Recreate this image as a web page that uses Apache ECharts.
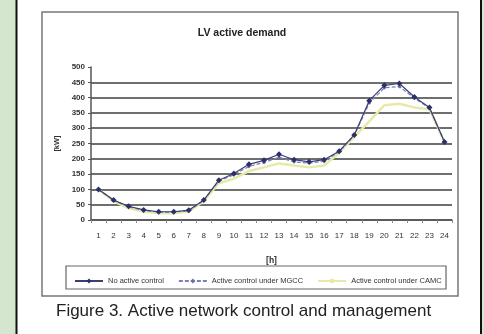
<!DOCTYPE html>
<html>
<head>
<meta charset="utf-8">
<script src="https://cdn.jsdelivr.net/npm/echarts@6/dist/echarts.min.js"></script>
<style>
  html, body { margin: 0; padding: 0; background: #d4e6cd; }
  #chart { width: 484px; height: 334px; }
</style>
</head>
<body>
<div id="chart"></div>
<script>
// Hours of the day
const hours = ['1','2','3','4','5','6','7','8','9','10','11','12','13','14','15','16','17','18','19','20','21','22','23','24'];
// LV active demand [kW] per hour
const noActiveControl = [100, 65, 45, 33, 27, 27, 32, 65, 130, 152, 182, 195, 215, 197, 190, 197, 225, 278, 390, 440, 446, 402, 368, 255];
const mgccControl     = [100, 64, 43, 31, 26, 26, 30, 64, 128, 148, 175, 188, 205, 190, 186, 192, 223, 276, 382, 432, 436, 398, 366, 255];
const camcControl     = [100, 62, 38, 28, 22, 22, 28, 62, 120, 135, 160, 172, 185, 178, 172, 178, 220, 272, 322, 375, 380, 368, 362, 255];
const yTicks = { min: 0, max: 500, step: 50 };

const chart = echarts.init(document.getElementById('chart'), null, { renderer: 'canvas' });
const font = 'Liberation Sans, Arial, sans-serif';

chart.setOption({
  backgroundColor: 'transparent',
  animation: false,
  graphic: [
    // white page with dark side rules
    { type: 'rect', shape: { x: 16, y: 0, width: 466, height: 334 }, style: { fill: '#ffffff' }, z: -10 },
    { type: 'line', shape: { x1: 16.5, y1: 0, x2: 16.5, y2: 334 }, style: { stroke: '#111', lineWidth: 2 }, z: -9 },
    { type: 'line', shape: { x1: 481, y1: 0, x2: 481, y2: 334 }, style: { stroke: '#111', lineWidth: 2 }, z: -9 },
    // chart frame
    { type: 'rect', shape: { x: 42, y: 12, width: 416, height: 284 }, style: { fill: 'none', stroke: '#777', lineWidth: 1.5 }, z: -5 },
    // legend frame
    { type: 'rect', shape: { x: 66, y: 266, width: 380, height: 23 }, style: { fill: 'none', stroke: '#666', lineWidth: 1.2 }, z: -5 },
    // caption
    { type: 'text', left: 56, top: 303, style: { text: 'Figure 3. Active network control and management', font: '17px ' + font, fill: '#222' } }
  ],
  title: {
    text: 'LV active demand',
    left: 'center',
    top: 23,
    textStyle: { fontSize: 10.5, fontWeight: 'bold', color: '#222', fontFamily: font }
  },
  legend: {
    top: 272,
    left: 69,
    itemWidth: 28,
    itemHeight: 6,
    itemGap: 14,
    textStyle: { fontSize: 7.5, color: '#333', fontFamily: font },
    data: ['No active control', 'Active control under MGCC', 'Active control under CAMC']
  },
  grid: { left: 91, right: 32, top: 67, bottom: 114, containLabel: false },
  xAxis: {
    type: 'category',
    data: hours,
    boundaryGap: true,
    name: '[h]',
    nameLocation: 'middle',
    nameGap: 36,
    nameTextStyle: { fontSize: 8.5, fontWeight: 'bold', color: '#333', fontFamily: font },
    axisLine: { lineStyle: { color: '#555', width: 1.5 } },
    axisTick: { show: true, inside: false, length: 3, lineStyle: { color: '#888' } },
    axisLabel: { fontSize: 8, color: '#333', margin: 12, fontFamily: font, interval: 0 }
  },
  yAxis: {
    type: 'value',
    min: yTicks.min,
    max: yTicks.max,
    interval: yTicks.step,
    name: '[kW]',
    nameLocation: 'middle',
    nameGap: 26,
    nameRotate: 90,
    nameTextStyle: { fontSize: 7.5, fontWeight: 'bold', color: '#333', fontFamily: font },
    axisLine: { show: true, lineStyle: { color: '#555', width: 1.5 } },
    axisTick: { show: true, length: 3, lineStyle: { color: '#555' } },
    axisLabel: { fontSize: 8, color: '#333', margin: 6, fontFamily: font, fontWeight: 'bold' },
    splitLine: { show: true, showMaxLine: false, lineStyle: { color: '#6e6e6e', width: 2 } }
  },
  series: [
    {
      name: 'Active control under CAMC',
      type: 'line',
      data: camcControl,
      symbol: 'none',
      lineStyle: { color: '#e6eaa6', width: 2.5 },
      itemStyle: { color: '#e6eaa6' },
      z: 2
    },
    {
      name: 'Active control under MGCC',
      type: 'line',
      data: mgccControl,
      symbol: 'diamond',
      symbolSize: 4,
      lineStyle: { color: '#7a7fb8', width: 1.2, type: [4, 2] },
      itemStyle: { color: '#6a6fa8' },
      z: 3
    },
    {
      name: 'No active control',
      type: 'line',
      data: noActiveControl,
      symbol: 'diamond',
      symbolSize: 6,
      lineStyle: { color: '#3a3f78', width: 1.2 },
      itemStyle: { color: '#2c3068' },
      z: 4
    }
  ]
});
</script>
</body>
</html>
